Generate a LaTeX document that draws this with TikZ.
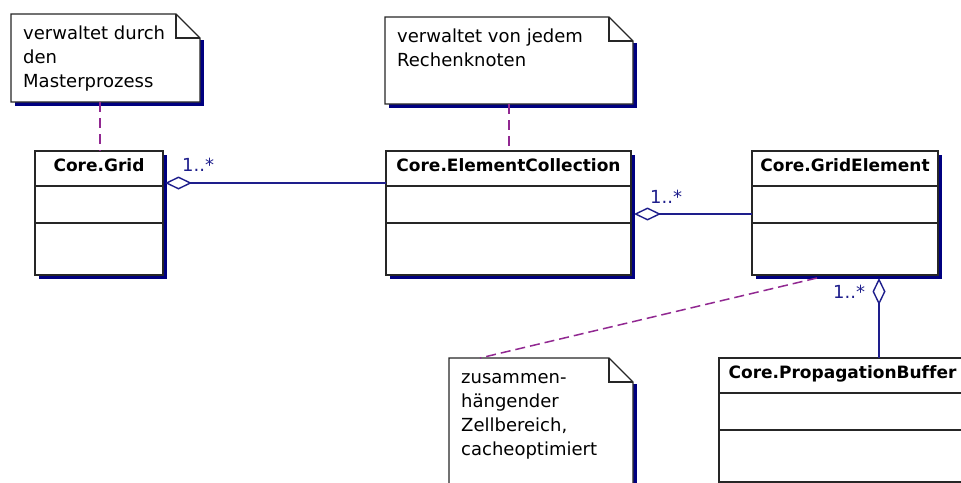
\documentclass[tikz,border=0pt]{standalone}
\usepackage{fontspec}
\setmainfont{DejaVu Sans}[Ligatures=NoCommon]
\usetikzlibrary{calc,arrows.meta,shadows}

\definecolor{shadowblue}{RGB}{0,0,128}
\definecolor{linkblue}{RGB}{30,30,140}
\definecolor{notepurple}{RGB}{145,40,145}

\tikzset{
  boxrule/.style={draw=black!85, line width=1.4pt},
  classbox/.style={boxrule, fill=white, inner sep=0pt, outer sep=0pt,
    anchor=north west, minimum height=124pt,
    drop shadow={shadow xshift=3.5pt, shadow yshift=-3.5pt, fill=shadowblue, opacity=1}},
  classtitle/.style={font=\fontsize{17}{20}\selectfont\bfseries, inner sep=0pt, anchor=base},
  notetext/.style={font=\fontsize{18}{24}\selectfont, inner sep=0pt, anchor=base west},
  mult/.style={text=linkblue, font=\fontsize{18}{20}\selectfont, inner sep=0pt, anchor=base west},
  aggregation/.style={draw=linkblue, line width=1.4pt,
    {Diamond[open,length=27pt,width=13pt]}-},
  anchorline/.style={draw=notepurple, line width=1.5pt, dash pattern=on 10pt off 6pt},
}

% UML class: name, x, y, width, title
\newcommand{\umlclass}[5]{%
  \node[classbox, minimum width=#4] (#1) at (#2,#3) {};
  \node[classtitle] (#1-title) at ($(#1.north)+(0,20)$) {#5};
  \draw[boxrule] ($(#1.north west)+(0,35)$) -- ($(#1.north east)+(0,35)$);
  \draw[boxrule] ($(#1.north west)+(0,72)$) -- ($(#1.north east)+(0,72)$);
}

% UML note with folded corner: name, x, y, width, height, lines
\newcommand{\umlnote}[6]{%
  \node[inner sep=0pt, outer sep=0pt, anchor=north west,
        minimum width=#4, minimum height=#5] (#1) at (#2,#3) {};
  \fill[shadowblue] ($(#1.north east)+(0,26)$) rectangle ($(#1.south east)+(3.5,3.5)$);
  \fill[shadowblue] ($(#1.south west)+(3.5,0)$) rectangle ($(#1.south east)+(3.5,3.5)$);
  \filldraw[boxrule, fill=white] (#1.north west) -- ($(#1.north east)+(-24,0)$)
    -- ($(#1.north east)+(0,24)$) -- (#1.south east) -- (#1.south west) -- cycle;
  \draw[boxrule] ($(#1.north east)+(-24,0)$) |- ($(#1.north east)+(0,24)$);
  \node[notetext] (#1-text) at ($(#1.north west)+(12,25)$) {\vtop{#6}};
}

\begin{document}
\begin{tikzpicture}[x=1pt,y=-1pt]
\useasboundingbox (0,0) rectangle (961,482);
\clip (0,0) rectangle (961,482);

% notes
\umlnote{n1}{11}{14}{189}{88}{\hbox{verwaltet durch}\hbox{den}\hbox{Masterprozess}}
\umlnote{n2}{385}{17}{248}{87}{\hbox{verwaltet von jedem}\hbox{Rechenknoten}}
\umlnote{n3}{449}{358}{184}{150}{\hbox{zusammen-}\hbox{hängender}\hbox{Zellbereich,}\hbox{cacheoptimiert}}

% classes
\umlclass{grid}{35}{151}{128}{Core.Grid}
\umlclass{ec}{386}{151}{245}{Core.ElementCollection}
\umlclass{ge}{752}{151}{186}{Core.GridElement}
\umlclass{pb}{719}{358}{247}{Core.PropagationBuffer}

% note anchors
\draw[anchorline] ($(n1.south west)+(89,0)$) -- ($(grid.north west)+(65,0)$);
\draw[anchorline] ($(n2.south west)+(124,0)$) -- ($(ec.north west)+(123,0)$);
\draw[anchorline, dash pattern=on 10pt off 5pt] ($(ge.south west)+(65,3)$) -- ($(n3.north west)+(31,0)$);

% aggregations
\draw[aggregation] ($(grid.north east)+(2,32)$) -- ($(ec.north west)+(0,32)$);
\draw[aggregation] ($(ec.north east)+(3,63)$) -- ($(ge.north west)+(0,63)$);
\draw[aggregation] ($(ge.south west)+(127,3)$) -- ($(pb.north west)+(160,0)$);

% multiplicities
\node[mult] (m1) at (182,171) {1..*};
\node[mult] (m2) at (650,203) {1..*};
\node[mult] (m3) at (833,298) {1..*};
\end{tikzpicture}
\end{document}
